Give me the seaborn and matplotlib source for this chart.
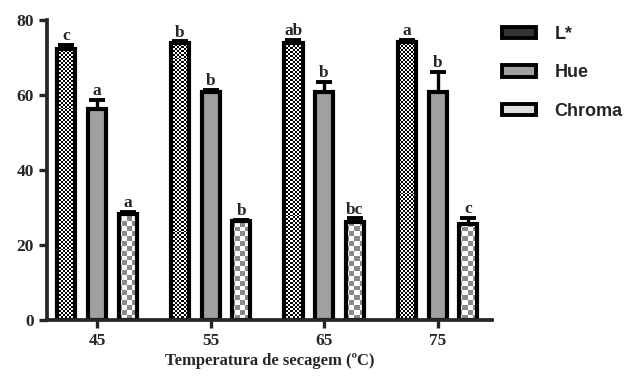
import numpy as np
import pandas as pd
import matplotlib
matplotlib.use("Agg")
import matplotlib.pyplot as plt
import seaborn as sns
from matplotlib.patches import Patch

temps = ["45", "55", "65", "75"]
series = ["L*", "Hue", "Chroma"]
l_vals = [72.3, 73.8, 74.0, 74.2]
l_err = [1.0, 0.5, 0.8, 0.5]
hue_vals = [56.3, 60.8, 60.9, 60.9]
hue_err = [2.5, 0.5, 2.7, 5.2]
chroma_vals = [28.3, 26.4, 26.1, 25.6]
chroma_err = [0.5, 0.2, 1.0, 1.7]
l_letters = ["c", "b", "ab", "a"]
hue_letters = ["a", "b", "b", "b"]
chroma_letters = ["a", "b", "bc", "c"]

vals = {"L*": l_vals, "Hue": hue_vals, "Chroma": chroma_vals}
errs = {"L*": l_err, "Hue": hue_err, "Chroma": chroma_err}
letters = {"L*": l_letters, "Hue": hue_letters, "Chroma": chroma_letters}

df = pd.DataFrame({
    "temp": np.tile(temps, len(series)),
    "serie": np.repeat(series, len(temps)),
    "value": np.concatenate([l_vals, hue_vals, chroma_vals]),
})

sns.set_style("ticks")
plt.rcParams["font.family"] = ["Liberation Serif", "DejaVu Serif"]

fig = plt.figure(figsize=(6.27, 3.79), dpi=100)
ax = fig.add_axes([0.075, 0.156, 0.71, 0.791])

sns.barplot(data=df, x="temp", y="value", hue="serie", order=temps,
            hue_order=series, errorbar=None, width=0.81, gap=0.41,
            palette={"L*": "white", "Hue": "#a0a0a0", "Chroma": "white"},
            edgecolor="black", linewidth=3.0, legend=False, ax=ax)

xlim = (-0.44, 3.48)
ylim = (0, 80)
ax.set_xlim(*xlim)
ax.set_ylim(*ylim)


def checker(cell, c1, c2):
    W, H = 445, 300
    ny, nx = H // cell + 1, W // cell + 1
    yy, xx = np.indices((ny, nx))
    m = (yy + xx) % 2
    a = np.array(matplotlib.colors.to_rgb(c1))
    b = np.array(matplotlib.colors.to_rgb(c2))
    img = np.where(m[..., None] == 0, a, b)
    return img

tex = {"L*": checker(2, "black", "white"), "Chroma": checker(5, "#8a8a8a", "white")}

bars = [p for p in ax.patches]
for si, s in enumerate(series):
    group = bars[si * len(temps):(si + 1) * len(temps)]
    for ti, p in enumerate(group):
        cx = p.get_x() + p.get_width() / 2
        top = p.get_height()
        e = errs[s][ti]
        if s in tex:
            p.set_facecolor("none")
            im = ax.imshow(tex[s], extent=(xlim[0], xlim[1], ylim[0], ylim[1]),
                           aspect="auto", interpolation="nearest", zorder=0.9)
            im.set_clip_path(p)
        ax.errorbar([cx], [top], yerr=[[0], [e]], fmt="none", ecolor="black",
                    elinewidth=2.4, capsize=5.5, capthick=2.8, zorder=3)
        ax.text(cx, top + e + 0.2, letters[s][ti], ha="center", va="bottom",
                fontsize=12.5, fontweight="bold", family=["Liberation Serif"])

ax.set_xlim(*xlim)
ax.set_ylim(*ylim)
ax.set_yticks([0, 20, 40, 60, 80])
sns.despine(ax=ax)
for sp in ["left", "bottom"]:
    ax.spines[sp].set_linewidth(2.7)
ax.tick_params(axis="both", width=2.4, length=6, labelsize=12.5, direction="out")
for lbl in ax.get_xticklabels() + ax.get_yticklabels():
    lbl.set_fontweight("bold")
ax.set_xlabel("Temperatura de secagem (ºC)", fontsize=12, fontweight="bold", labelpad=3)
ax.set_ylabel("")

handles = [Patch(facecolor="#333333", edgecolor="black", linewidth=2.8, label="L*"),
           Patch(facecolor="#a0a0a0", edgecolor="black", linewidth=2.8, label="Hue"),
           Patch(facecolor="#dddddd", edgecolor="black", linewidth=2.8, label="Chroma")]
fig.legend(handles=handles, loc="upper left", bbox_to_anchor=(0.775, 0.975),
           frameon=False, handlelength=1.9, handleheight=0.6, labelspacing=1.2,
           handletextpad=1.0,
           prop={"family": "Liberation Sans", "weight": "bold", "size": 13})

fig.savefig("out.png", dpi=100)
